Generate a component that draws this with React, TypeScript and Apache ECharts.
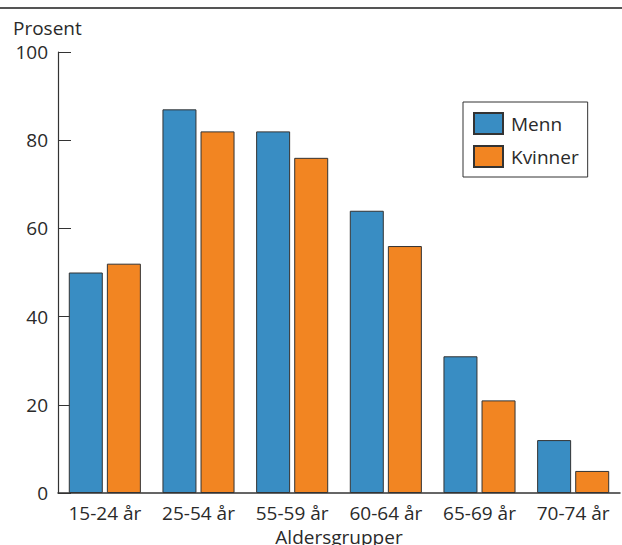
import React, { useEffect, useRef } from "react";
import * as echarts from "echarts";

const categories = ["15-24 år", "25-54 år", "55-59 år", "60-64 år", "65-69 år", "70-74 år"];
const menn = [50, 87, 82, 64, 31, 12];
const kvinner = [52, 82, 76, 56, 21, 5];
const yTicks = { min: 0, max: 100, interval: 20 };

const FONT = "'Open Sans', 'Noto Sans', sans-serif";
const TXT = "#2a2a2a";

export default function App() {
  const ref = useRef<HTMLDivElement>(null);
  useEffect(() => {
    if (!ref.current) return;
    const chart = echarts.init(ref.current, undefined, { renderer: "svg" });
    chart.setOption({
      animation: false,
      textStyle: { fontFamily: FONT },
      grid: { left: 58, right: 2, top: 52, bottom: 52, containLabel: false, outerBoundsMode: "none" },
      legend: {
        orient: "vertical",
        left: 463,
        top: 102,
        padding: [10, 9, 9, 10],
        itemWidth: 29,
        itemHeight: 21,
        itemGap: 10,
        borderColor: "#333",
        borderWidth: 1,
        icon: "rect",
        textStyle: { fontSize: 19, lineHeight: 21, color: TXT, fontFamily: FONT, padding: [0, 0, 0, 3] },
        data: ["Menn", "Kvinner"],
      },
      xAxis: {
        type: "category",
        data: categories,
        name: "Aldersgrupper",
        nameLocation: "middle",
        nameGap: 34,
        nameTextStyle: { fontSize: 19, color: TXT, fontFamily: FONT },
        axisLine: { lineStyle: { color: "#333", width: 1.5 } },
        axisTick: { inside: true, length: 11, interval: 0, lineStyle: { color: "#333" } },
        axisLabel: { fontSize: 19, color: TXT, margin: 10, interval: 0, fontFamily: FONT },
      },
      yAxis: {
        type: "value",
        min: yTicks.min,
        max: yTicks.max,
        interval: yTicks.interval,
        splitLine: { show: false },
        axisLine: { show: true, lineStyle: { color: "#333", width: 1.2 } },
        axisTick: { show: true, inside: true, length: 13, lineStyle: { color: "#333" } },
        axisLabel: { fontSize: 19, color: TXT, margin: 10, fontFamily: FONT },
      },
      series: [
        {
          name: "Menn",
          type: "bar",
          data: menn,
          barWidth: 34,
          barGap: "12%",
          itemStyle: { color: "#398dc3", borderColor: "#333", borderWidth: 1 },
        },
        {
          name: "Kvinner",
          type: "bar",
          data: kvinner,
          barWidth: 34,
          itemStyle: { color: "#f28522", borderColor: "#333", borderWidth: 1 },
        },
      ],
      graphic: [
        {
          type: "line",
          shape: { x1: 0, y1: 8, x2: 622, y2: 8 },
          style: { stroke: "#555", lineWidth: 2 },
        },
        {
          type: "text",
          left: 13,
          top: 18,
          style: { text: "Prosent", fontSize: 19, fill: TXT, fontFamily: FONT },
        },
      ],
    });
    return () => chart.dispose();
  }, []);
  return (
    <div
      ref={ref}
      style={{ position: "absolute", left: 0, top: 0, width: 622, height: 545, background: "#fff" }}
    />
  );
}
